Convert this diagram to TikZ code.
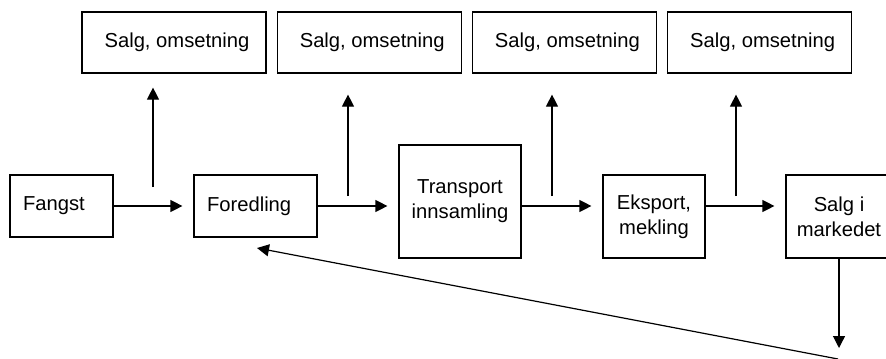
\documentclass[tikz,border=0pt]{standalone}
\usepackage{fontspec}
\setmainfont{Liberation Sans}
\usetikzlibrary{arrows.meta, positioning}

\begin{document}
\begin{tikzpicture}[
        x=0.5pt, y=-0.5pt,
        node distance=5pt,
        box/.style={rectangle, draw, line width=0.6pt, inner sep=0pt, font=\fontsize{10.1pt}{12.4pt}\selectfont},
        salgbox/.style={box, minimum width=92pt, minimum height=30.5pt},
        arrow/.style={-{Triangle[length=6pt,width=6pt]}, line width=0.6pt}
    ]
        \useasboundingbox (0,0) rectangle (886,358);
        \clip (0,0) rectangle (886,358);

        % top row
        \node[salgbox] (s1) at (174,42.5) {\hspace{3pt}Salg, omsetning};
        \node[salgbox, right=of s1] (s2) {\hspace{3pt}Salg, omsetning};
        \node[salgbox, right=of s2] (s3) {\hspace{3pt}Salg, omsetning};
        \node[salgbox, right=of s3] (s4) {\hspace{3pt}Salg, omsetning};

        % chain
        \node[box, inner xsep=6.5pt, text width=38.5pt, minimum height=31pt, align=left] (fangst) at (61.5,206) {Fangst};
        \node[box, inner xsep=6.5pt, text width=48.5pt, minimum height=31pt, align=left] (foredling) at (255.5,206) {Foredling};
        \node[box, minimum width=61pt, minimum height=56.5pt, align=center] (transport) at (460,201.5) {Transport\\innsamling};
        \node[box, minimum width=51pt, minimum height=41.5pt, align=center] (eksport) at (654,216.5) {Eksport,\\mekling};
        \node[box, minimum width=53pt, minimum height=41.5pt, align=center] (marked) at (839,216.5) {Salg i\\markedet};

        \draw[arrow, shorten >=5.5pt] (fangst) -- (foredling);
        \draw[arrow, shorten >=5.5pt] (foredling) -- (foredling -| transport.west);
        \draw[arrow, shorten >=5.5pt] (transport.east |- fangst) -- (eksport.west |- fangst);
        \draw[arrow, shorten >=5.5pt] (eksport.east |- fangst) -- (marked.west |- fangst);

        % up to sales
        \coordinate (opp1) at (153,187);
        \coordinate (opp2) at (348,196);
        \coordinate (opp3) at (552,196);
        \coordinate (opp4) at (736,196);
        \draw[arrow, shorten >=7pt] (opp1) -- (opp1 |- s1.south);
        \foreach \i in {2,3,4}
            \draw[arrow, shorten >=10.5pt] (opp\i) -- (opp\i |- s\i.south);

        % back from market
        \coordinate (ned) at (839,348);
        \coordinate (retur) at (838,359);
        \coordinate (tilbake) at (257,248);
        \draw[arrow] (marked) -- (ned);
        \draw[arrow] (retur) -- (tilbake);
    \end{tikzpicture}
\end{document}
